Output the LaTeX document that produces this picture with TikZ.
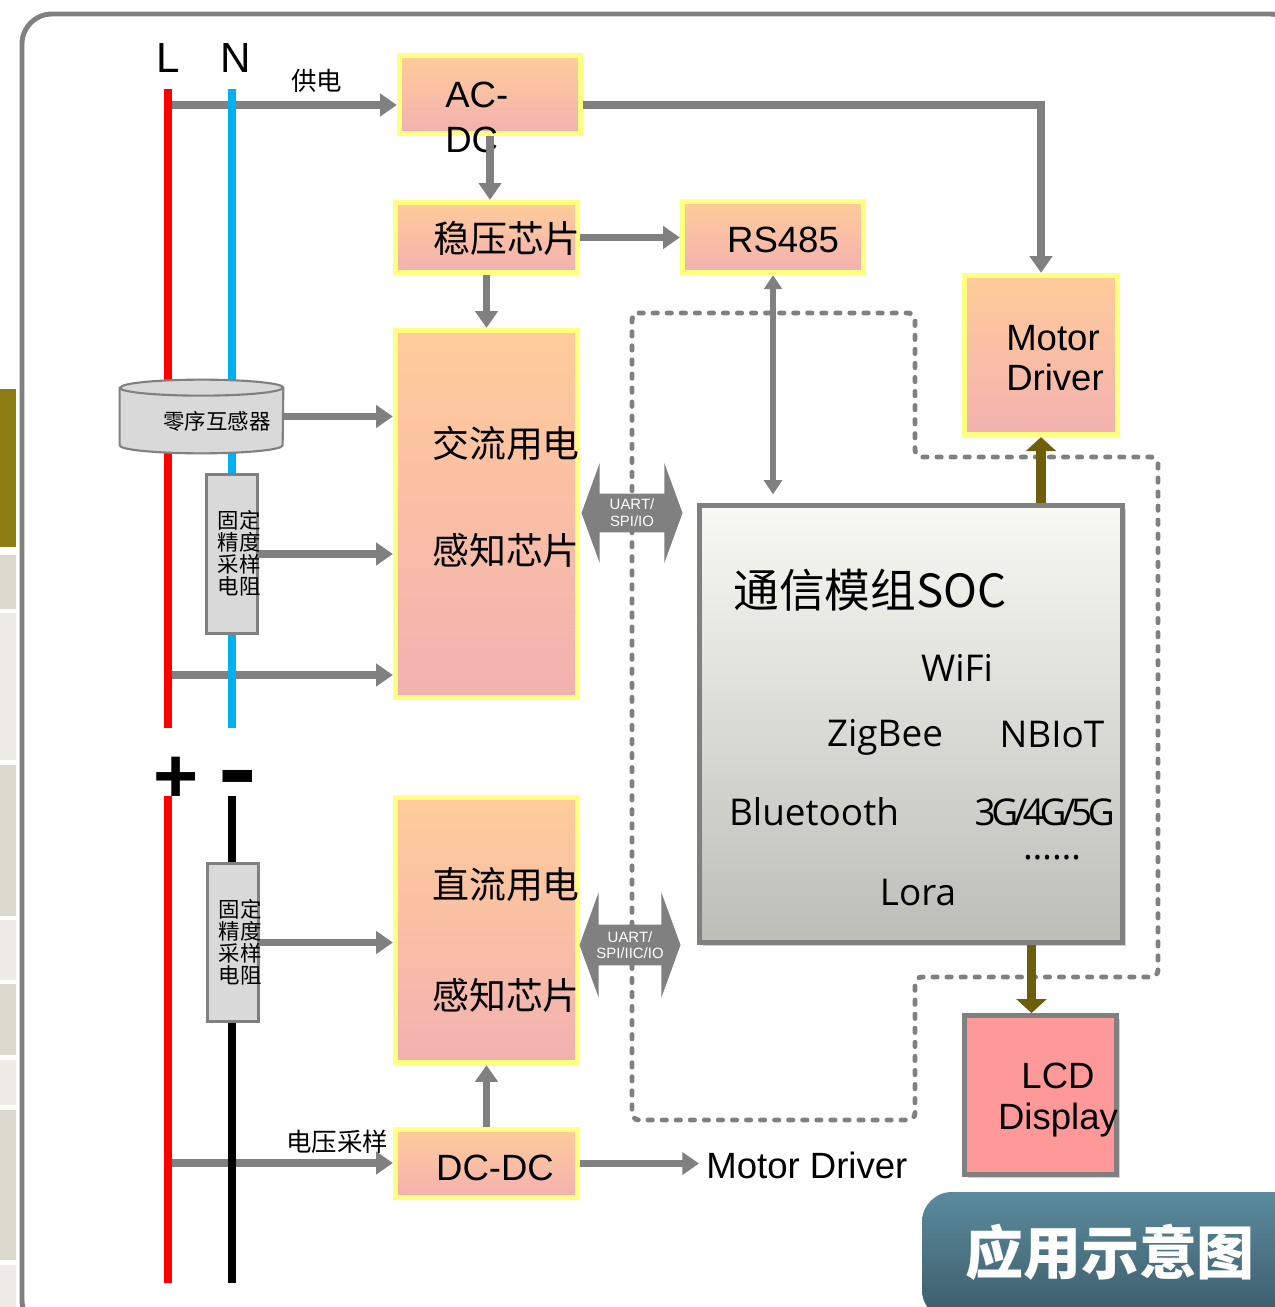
\documentclass[tikz,border=0pt]{standalone}
\usepackage{fontspec}
\setmainfont{Liberation Sans}
\newfontfamily\cjk{Noto Sans CJK SC}
\newfontfamily\socfont{Open Sans}
\usepackage{tikz}
\usetikzlibrary{positioning, arrows.meta, shapes.geometric, shapes.arrows, shadows}

\definecolor{peach}{HTML}{FFCC99}
\definecolor{pinky}{HTML}{F2B1B1}
\definecolor{boxyellow}{HTML}{FFFF80}
\definecolor{linegray}{HTML}{808080}
\definecolor{partgray}{HTML}{D9D9D9}
\definecolor{liveline}{HTML}{FF0000}
\definecolor{neutline}{HTML}{00B0F0}
\definecolor{olivearr}{HTML}{6E5E0B}
\definecolor{lcdpink}{HTML}{FF9999}
\definecolor{soctop}{HTML}{F9F9F4}
\definecolor{socbot}{HTML}{BDBDB8}
\definecolor{badgetop}{HTML}{5A8B9D}
\definecolor{badgebot}{HTML}{3C5B69}
\definecolor{barolive}{HTML}{8C7E12}
\definecolor{barbeige}{HTML}{DCD9CE}
\definecolor{barlight}{HTML}{EDECE7}

\begin{document}
\begin{tikzpicture}[x=0.02cm, y=-0.02cm,
    blk/.style={draw=boxyellow, line width=3pt, top color=peach,
                bottom color=pinky, minimum width=3.64cm, inner sep=0pt},
    res/.style={draw=linegray, line width=1.6pt, fill=partgray,
                minimum width=1.02cm, minimum height=3.18cm, inner sep=0pt},
    flow/.style={draw=linegray, line width=4.5pt,
                 -{Triangle[length=9.5pt,width=12.5pt]}},
    busarr/.style={draw=olivearr, line width=5.5pt,
                   -{Triangle[length=8pt,width=17pt]}},
    bus/.style={double arrow, fill=linegray, double arrow head extend=14.5pt,
                double arrow tip angle=140, minimum height=57.5pt,
                inner sep=1pt, text=white, align=center,
                font=\fontsize{8.5}{9.5}\selectfont},
    cnbig/.style={font=\cjk\fontsize{21}{22}\selectfont, inner sep=0pt},
    cnsmall/.style={font=\cjk\fontsize{14.5}{15}\selectfont, inner sep=0pt},
    cnres/.style={font=\cjk\fontsize{12.2}{12.6}\selectfont, align=left, inner sep=0pt},
    latin/.style={font=\fontsize{20.8}{23.5}\selectfont, align=left, inner sep=0pt},
    radio/.style={font=\socfont\fontsize{21}{21}\selectfont, inner sep=0pt},
    wire/.style={line width=4.5pt}
  ]
    \useasboundingbox (0,0) rectangle (1274,1307);
    % side bar of the slide
    \fill[barolive] (0,389) rectangle (16,547);
    \fill[barbeige] (0,555) rectangle (16,609);
    \fill[barlight] (0,613) rectangle (16,760);
    \fill[barbeige] (0,765) rectangle (16,916);
    \fill[barlight] (0,920) rectangle (16,980);
    \fill[barbeige] (0,984) rectangle (16,1055);
    \fill[barlight] (0,1060) rectangle (16,1105);
    \fill[barbeige] (0,1110) rectangle (16,1260);
    \fill[barlight] (0,1265) rectangle (16,1307);
    % frame
    \draw[linegray, line width=2.8pt, rounded corners=17pt] (22,14) rectangle (1300,1330);

    % blocks
    \node[blk, minimum width=3.62cm, minimum height=1.56cm] (acdc)  at (490,94.5) {};
    \node[blk, minimum height=1.40cm] (ldo)   at (486.5,237.5) {};
    \node[blk, minimum width=3.62cm, minimum height=1.42cm] (rs485) at (773,237) {};
    \node[blk, minimum height=7.34cm] (acbox) at (486.5,514) {};
    \node[blk, minimum height=5.30cm] (dcbox) at (486.5,930) {};
    \node[blk, minimum height=1.36cm] (dcdc)  at (486.5,1163.5) {};
    \node[blk, minimum width=3.06cm, minimum height=3.18cm] (motor) at (1041,355) {};

    \node[latin, anchor=west, font=\fontsize{20.8}{25.6}\selectfont] (acdctxt) at (445,117) {AC-\\DC};
    \node[cnbig] (ldotxt) at (507,238) {稳压芯片};
    \node[latin] (rstxt) at (783,240) {RS485};
    \node[cnbig] (acl1) at (506,443) {交流用电};
    \node[cnbig] (acl2) at (506,550) {感知芯片};
    \node[cnbig] (dcl1) at (506,885) {直流用电};
    \node[cnbig] (dcl2) at (506,995) {感知芯片};
    \node[latin] (dcdctxt) at (495,1168) {DC-DC};
    \node[latin, font=\fontsize{20.8}{22.8}\selectfont] (motortxt) at (1055,358) {Motor\\Driver};

    % dashed bus loop
    \draw[linegray, line width=2.8pt, line cap=round, dash pattern=on 2.4pt off 5.6pt,
          rounded corners=4pt]
      (632,313) -- (915,313) -- (915,457) -- (1158,457) -- (1158,977)
      -- (915,977) -- (915,1120) -- (632,1120) -- cycle;

    % SOC and display
    \node[draw=linegray, line width=2.8pt, top color=soctop, bottom color=socbot,
          minimum width=8.46cm, minimum height=8.74cm,
          drop shadow={opacity=0.35, shadow xshift=2pt, shadow yshift=-2pt}] (soc) at (911,724) {};
    \node[draw=linegray, line width=2.8pt, fill=lcdpink,
          minimum width=3.04cm, minimum height=3.18cm,
          drop shadow={opacity=0.35, shadow xshift=2pt, shadow yshift=-2pt}] (lcd) at (1040.5,1095) {};
    \node[latin, align=center] (lcdtxt) at (1058,1100) {LCD\\Display};

    \node[font=\cjk\fontsize{26}{26}\selectfont, anchor=west, inner sep=0pt] (soctitle) at (733,590) {通信模组SOC};
    \node[radio] (wifi)  at (957,668) {WiFi};
    \node[radio] (zig)   at (885,737) {ZigBee};
    \node[radio] (nbiot) at (1052,735) {NBIoT};
    \node[radio] (ble)   at (814,812) {Bluetooth};
    \node[radio, anchor=east] (cell) at (1115,812) {\addfontfeature{LetterSpace=-12}3G/4G/5G};
    \node[radio] (more)  at (1052,858) {……};
    \node[radio] (lora)  at (918,893) {Lora};

    % interface arrows
    \node[bus, minimum width=57pt] (bus1) at (632,513) {UART/\\SPI/IO};
    \node[bus, minimum width=60pt] (bus2) at (630,945) {UART/\\SPI/IIC/IO};

    % power feed from the mains
    \coordinate (feed) at (168,105);
    \coordinate (Lac)  at (168,675);
    \coordinate (Ldc)  at (168,1163);
    \draw[flow] (feed) -- (feed -| acdc.west) node[cnsmall, pos=0.65, above=5pt] (feedtxt) {供电};
    \draw[flow] (Lac) -- (Lac -| acbox.west);
    \draw[flow] (Ldc) -- (Ldc -| dcdc.west);
    \node[cnsmall] (vsense) at (337,1142) {电压采样};

    % wires
    \draw[liveline, wire] (168,89) -- (168,728);
    \draw[neutline, wire] (232,89) -- (232,728);
    \draw[liveline, wire] (168,796) -- (168,1283);
    \draw[black, wire] (232,796) -- (232,1283);
    \node[font=\fontsize{24}{24}\selectfont] (Llab) at (168,58) {L};
    \node[font=\fontsize{24}{24}\selectfont] (Nlab) at (236,58) {N};
    \node[font=\bfseries\fontsize{44}{44}\selectfont, inner sep=0pt] (plus) at (176,780) {+};
    \node[font=\bfseries\fontsize{44}{44}\selectfont, inner sep=0pt] (minus) at (238,786) {\scalebox{1.5}[1.3]{-}};

    % sensors
    \node[minimum width=3.26cm, minimum height=1.46cm, inner sep=0pt] (cyl) at (201.5,416.5) {};
    \draw[linegray, line width=1.2pt, fill=partgray]
      ([yshift=-0.16cm]cyl.north west) -- ([yshift=0.16cm]cyl.south west)
      arc[start angle=180, end angle=360, x radius=1.63cm, y radius=0.16cm]
      -- ([yshift=-0.16cm]cyl.north east)
      arc[start angle=0, end angle=180, x radius=1.63cm, y radius=0.16cm] -- cycle;
    \draw[linegray, line width=1.2pt] ([yshift=-0.16cm]cyl.north west)
      arc[start angle=180, end angle=360, x radius=1.63cm, y radius=0.16cm];
    \node[font=\cjk\fontsize{12.2}{12.6}\selectfont, inner sep=0pt] (cyltxt) at (217,421) {零序互感器};
    \node[res] (res1) at (232,554) {};
    \node[res, minimum height=3.16cm] (res2) at (233,942.5) {};
    \node[cnres] (res1txt) at (239,553) {固定\\精度\\采样\\电阻};
    \node[cnres] (res2txt) at (240,942) {固定\\精度\\采样\\电阻};

    % connections
    \draw[flow] (acdc.south) -- (acdc.south |- ldo.north);
    \draw[flow] (ldo.east) -- (ldo.east -| rs485.west);
    \draw[flow] (ldo.south) -- (ldo.south |- acbox.north);
    \draw[flow] (acdc.east |- feed) -| (motor.north);
    \draw[flow] (cyl.east) -- (cyl.east -| acbox.west);
    \draw[flow] (res1.east) -- (res1.east -| acbox.west);
    \draw[flow] (res2.east) -- (res2.east -| dcbox.west);
    \draw[flow] (dcdc.north) -- (dcdc.north |- dcbox.south);
    \node[latin, anchor=west, inner sep=4pt] (mdout) at (699,1165) {Motor Driver};
    \draw[flow] (dcdc.east) -- (dcdc.east -| mdout.west);
    \draw[draw=linegray, line width=3.5pt, shorten >=5pt,
          {Triangle[length=8pt,width=10pt]}-{Triangle[length=8pt,width=10pt]}]
      (rs485.south) -- (rs485.south |- soc.north);
    \draw[busarr] (motor.south |- soc.north) -- (motor.south);
    \draw[busarr] ([xshift=-0.18cm]lcd.north |- soc.south) -- ([xshift=-0.18cm]lcd.north);

    % title badge
    \draw[rounded corners=17pt, top color=badgetop, bottom color=badgebot, draw=none]
      (922,1192) rectangle (1330,1320);
    \node[font=\cjk\bfseries\fontsize{33}{33}\selectfont, text=white] (title) at (1110,1252) {应用示意图};
  \end{tikzpicture}
\end{document}
